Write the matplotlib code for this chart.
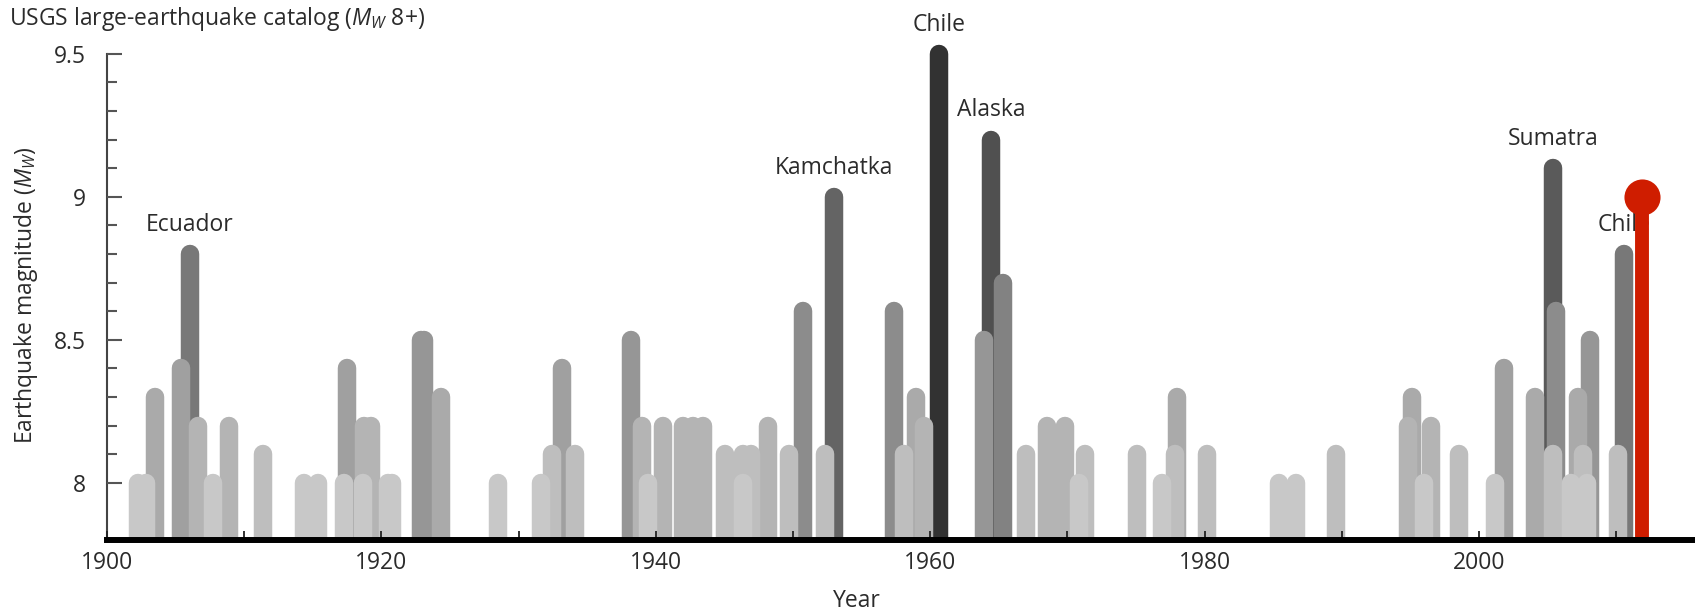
import numpy as np
import matplotlib
matplotlib.use('Agg')
import matplotlib.pyplot as plt
from matplotlib.ticker import FixedLocator, FuncFormatter

plt.rcParams['font.family'] = ['Open Sans', 'DejaVu Sans']
plt.rcParams['mathtext.fontset'] = 'custom'
plt.rcParams['mathtext.rm'] = 'Open Sans'
plt.rcParams['mathtext.it'] = 'Open Sans:italic'

# M8+ events: decimal year and moment magnitude
years = [1902.26, 1902.86, 1903.52, 1905.39, 1906.05, 1906.65, 1907.70, 1908.90,
         1911.40, 1914.33, 1915.40, 1917.30, 1917.47, 1918.63, 1918.73, 1919.28,
         1920.45, 1920.80, 1922.86, 1923.09, 1924.35, 1928.50, 1931.60, 1932.40,
         1933.20, 1934.10, 1938.20, 1938.97, 1939.40, 1940.50, 1941.95, 1942.68,
         1943.41, 1945.07, 1946.35, 1946.33, 1946.93, 1948.20, 1949.70, 1950.75,
         1952.30, 1953.00, 1957.36, 1958.10, 1958.97, 1959.55, 1960.65, 1963.90,
         1964.45, 1965.30, 1966.95, 1968.54, 1969.83, 1970.85, 1971.30, 1975.05,
         1976.87, 1977.85, 1978.00, 1980.20, 1985.42, 1986.66, 1989.60, 1994.80,
         1995.10, 1996.00, 1996.50, 1998.55, 2001.20, 2001.84, 2004.10, 2005.40,
         2005.40, 2005.60, 2006.70, 2007.20, 2007.60, 2007.90, 2008.10, 2010.15,
         2010.60]
mags = [8.0, 8.0, 8.3, 8.4, 8.8, 8.2, 8.0, 8.2,
        8.1, 8.0, 8.0, 8.0, 8.4, 8.0, 8.2, 8.2,
        8.0, 8.0, 8.5, 8.5, 8.3, 8.0, 8.0, 8.1,
        8.4, 8.1, 8.5, 8.2, 8.0, 8.2, 8.2, 8.2,
        8.2, 8.1, 8.0, 8.1, 8.1, 8.2, 8.1, 8.6,
        8.1, 9.0, 8.6, 8.1, 8.3, 8.2, 9.5, 8.5,
        9.2, 8.7, 8.1, 8.2, 8.2, 8.0, 8.1, 8.1,
        8.0, 8.1, 8.3, 8.1, 8.0, 8.0, 8.1, 8.2,
        8.3, 8.0, 8.2, 8.1, 8.0, 8.4, 8.3, 9.1,
        8.1, 8.6, 8.0, 8.3, 8.1, 8.0, 8.5, 8.1,
        8.8]

# named events
label_names = ['Ecuador', 'Kamchatka', 'Chile', 'Alaska', 'Sumatra', 'Chile']
label_years = [1906.05, 1953.00, 1960.65, 1964.45, 2005.40, 2010.60]

# highlighted latest event
latest_year = 2011.9
latest_mag = 9.0

ymin = 7.8
text_color = '#2b2b2b'

fig = plt.figure(figsize=(16.95, 6.13), dpi=100)
ax = fig.add_axes([0.0631, 0.1191, 0.9369, 0.8491])
ax.set_xlim(1900, 2015.74)
ax.set_ylim(ymin, 9.62)

# bigger quakes first so the smaller ones sit in front
order = np.argsort(mags, kind='stable')[::-1]
for i in order:
    m = mags[i]
    g = (200 - 100 * (m - 8.0)) / 255.0
    ax.plot([years[i], years[i]], [ymin, m], color=(g, g, g), lw=13.3,
            solid_capstyle='round', zorder=2)

for name, yr in zip(label_names, label_years):
    m = mags[years.index(yr)]
    ax.annotate(name, (yr, m), xytext=(0, 21), textcoords='offset points',
                ha='center', va='center', fontsize=16.5, color=text_color,
                annotation_clip=False, zorder=3)

ax.plot([latest_year, latest_year], [ymin, latest_mag], color='#cf1d00', lw=10,
        solid_capstyle='butt', zorder=4, clip_on=False)
ax.plot([latest_year], [latest_mag], 'o', color='#cf1d00', markersize=26,
        markeredgewidth=0, zorder=5, clip_on=False)

for side in ['top', 'right']:
    ax.spines[side].set_visible(False)
ax.spines['bottom'].set_linewidth(4.3)
ax.spines['bottom'].set_color('black')
ax.spines['bottom'].set_zorder(6)
ax.spines['left'].set_linewidth(1.5)
ax.spines['left'].set_color('#444444')
ax.spines['left'].set_bounds(ymin, 9.5)
ax.set_axisbelow(False)

ax.xaxis.set_major_locator(FixedLocator(np.arange(1900, 2001, 20)))
ax.xaxis.set_minor_locator(FixedLocator(np.arange(1910, 2011, 20)))
ax.yaxis.set_major_locator(FixedLocator([8.0, 8.5, 9.0, 9.5]))
ax.yaxis.set_minor_locator(FixedLocator(np.arange(8.1, 9.45, 0.1)))
ax.yaxis.set_major_formatter(FuncFormatter(lambda v, p: f'{v:g}'))

ax.tick_params(axis='x', which='both', direction='in', length=6.5, width=1.3,
               color='#222222', pad=8, labelsize=16.5, labelcolor=text_color)
ax.tick_params(axis='y', which='major', direction='in', length=11, width=1.5,
               color='#555555', pad=15, labelsize=16.5, labelcolor=text_color)
ax.tick_params(axis='y', which='minor', direction='in', length=7, width=1.5,
               color='#555555')

ax.set_xlabel('Year', fontsize=16.5, color=text_color)
ax.xaxis.set_label_coords(0.472, -0.095)
ax.set_ylabel('Earthquake magnitude ($M_W$)', fontsize=16.5, color=text_color)
ax.yaxis.set_label_coords(-0.042, 0.47)

fig.text(0.0053, 1 - 19 / 613, 'USGS large-earthquake catalog ($M_W$ 8+)',
         fontsize=16.5, color=text_color, ha='left', va='center')

fig.savefig('out.png', dpi=100)
